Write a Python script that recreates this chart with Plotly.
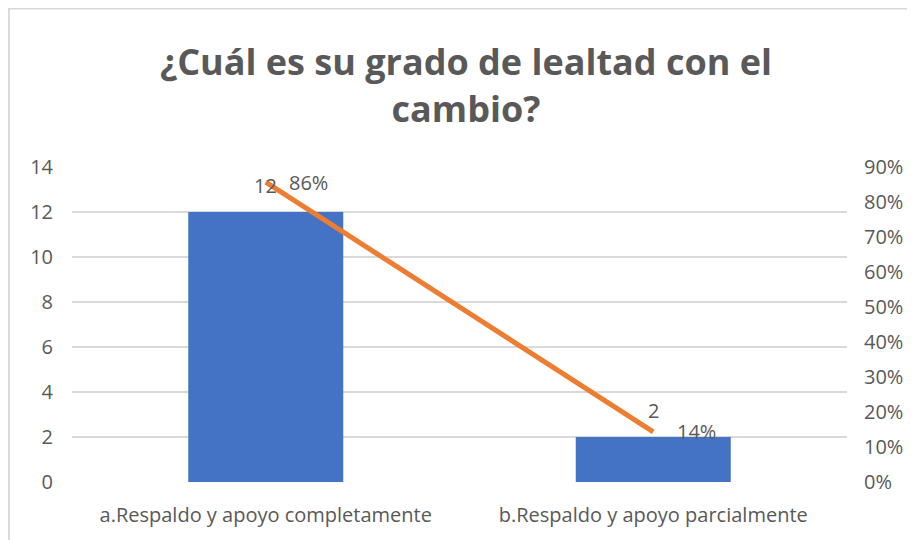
import plotly.graph_objects as go

categories = ["a.Respaldo y apoyo completamente", "b.Respaldo y apoyo parcialmente"]
counts = [12, 2]
percents = [0.857, 0.143]
percent_labels = ["86%", "14%"]
left_ticks = [0, 2, 4, 6, 8, 10, 12, 14]
right_ticks = [0, 0.1, 0.2, 0.3, 0.4, 0.5, 0.6, 0.7, 0.8, 0.9]
right_tick_labels = ["0%", "10%", "20%", "30%", "40%", "50%", "60%", "70%", "80%", "90%"]
title_text = "¿Cuál es su grado de lealtad con el<br>cambio?"

gray = "#595959"
font_family = "Open Sans, Liberation Sans, sans-serif"
lab_size = 20

fig = go.Figure()
fig.add_trace(go.Bar(
    x=categories, y=counts,
    marker=dict(color="#4472C4", line=dict(width=0)),
    yaxis="y", showlegend=False, hoverinfo="x+y",
))
fig.add_trace(go.Scatter(
    x=categories, y=percents, mode="lines",
    line=dict(color="#ED7D31", width=5),
    cliponaxis=False, yaxis="y2", showlegend=False,
))

annotations = []
for c, v in zip(categories, counts):
    annotations.append(dict(x=c, y=v, xref="x", yref="y", text=str(v), showarrow=False,
                            yshift=27, font=dict(size=lab_size, color=gray, family=font_family)))
for c, p, t in zip(categories, percents, percent_labels):
    annotations.append(dict(x=c, y=p, xref="x", yref="y2", text=t, showarrow=False,
                            xshift=43, yshift=0, font=dict(size=lab_size, color=gray, family=font_family)))

fig.update_layout(
    width=915, height=540,
    margin=dict(l=64, r=76, t=159, b=66, autoexpand=False),
    paper_bgcolor="white", plot_bgcolor="white",
    font=dict(family=font_family, color=gray),
    title=dict(text=title_text, x=(466 - 8) / 915, xanchor="center", y=1 - 67 / 540,
               yanchor="middle", yref="container",
               font=dict(size=36, color=gray, family="Open Sans, sans-serif", weight="bold")),
    bargap=0.6,
    xaxis=dict(showgrid=False, showline=False, zeroline=False, automargin=False,
               tickfont=dict(size=lab_size, color=gray), ticks="", ticklabelstandoff=19),
    yaxis=dict(range=[0, 14], tickvals=left_ticks, showgrid=True, gridcolor="#D9D9D9",
               gridwidth=1.5, zeroline=False, showline=False, automargin=False,
               tickfont=dict(size=lab_size, color=gray), ticks="", ticklabelstandoff=18),
    yaxis2=dict(range=[0, 0.9], tickvals=right_ticks, ticktext=right_tick_labels,
                overlaying="y", side="right", showgrid=False, zeroline=False, automargin=False,
                showline=False, tickfont=dict(size=lab_size, color=gray), ticks="",
                ticklabelstandoff=16),
    annotations=annotations,
    shapes=[
        dict(type="line", xref="paper", yref="paper", x0=-0.0826, x1=1.2, y0=1.503, y1=1.503,
             line=dict(color="#D9D9D9", width=2)),
        dict(type="line", xref="paper", yref="paper", x0=-0.0814, x1=-0.0814, y0=-0.3, y1=1.505,
             line=dict(color="#D9D9D9", width=2)),
    ],
)

fig.write_html("out.html")
